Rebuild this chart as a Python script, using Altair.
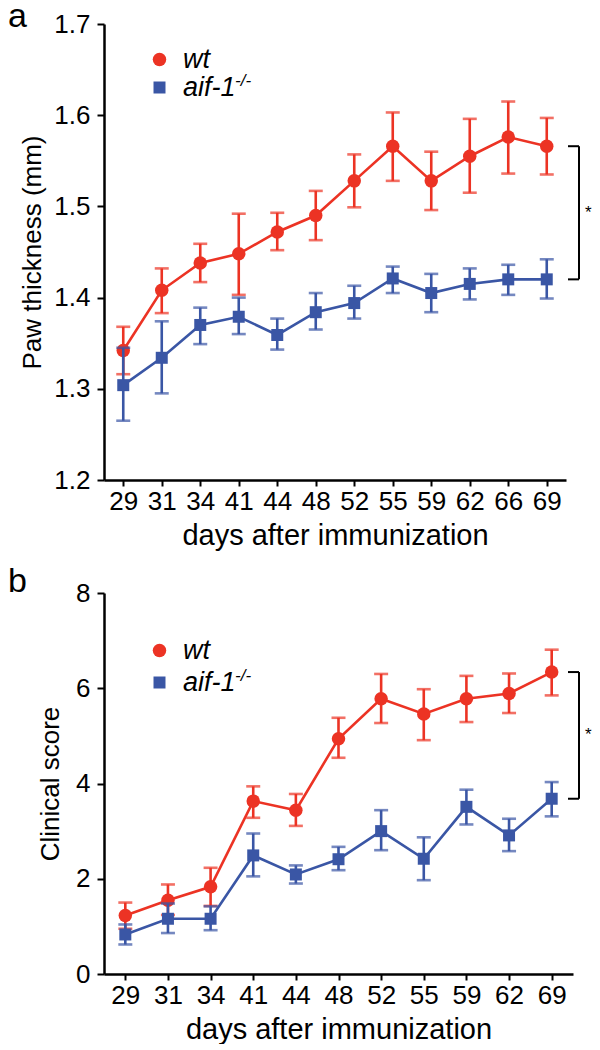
import altair as alt
import pandas as pd

# ---------------- data ----------------
series_names = ["wt", "aif-1"]
colors = ["#EC3324", "#3A56A5"]

days_a = ["29", "31", "34", "41", "44", "48", "52", "55", "59", "62", "66", "69"]
wt_a = [1.342, 1.408, 1.438, 1.448, 1.472, 1.490, 1.528, 1.566, 1.528, 1.555, 1.576, 1.566]
wt_a_hi = [1.368, 1.432, 1.459, 1.492, 1.493, 1.517, 1.557, 1.603, 1.560, 1.596, 1.615, 1.597]
wt_a_lo = [1.316, 1.383, 1.417, 1.403, 1.452, 1.463, 1.499, 1.528, 1.496, 1.515, 1.536, 1.535]
ko_a = [1.304, 1.334, 1.370, 1.379, 1.359, 1.384, 1.394, 1.421, 1.405, 1.415, 1.420, 1.420]
ko_a_hi = [1.345, 1.374, 1.389, 1.400, 1.377, 1.405, 1.413, 1.434, 1.426, 1.432, 1.436, 1.442]
ko_a_lo = [1.265, 1.295, 1.349, 1.360, 1.343, 1.365, 1.377, 1.405, 1.384, 1.398, 1.403, 1.399]

days_b = ["29", "31", "34", "41", "44", "48", "52", "55", "59", "62", "69"]
wt_b = [1.23, 1.55, 1.83, 3.63, 3.44, 4.94, 5.78, 5.46, 5.78, 5.89, 6.34]
wt_b_hi = [1.50, 1.88, 2.23, 3.94, 3.78, 5.38, 6.30, 5.98, 6.26, 6.31, 6.81]
wt_b_lo = [0.95, 1.24, 1.43, 3.28, 3.11, 4.54, 5.27, 4.91, 5.29, 5.48, 5.85]
ko_b = [0.83, 1.16, 1.16, 2.49, 2.09, 2.41, 3.00, 2.42, 3.51, 2.91, 3.68]
ko_b_hi = [1.04, 1.48, 1.42, 2.95, 2.28, 2.67, 3.44, 2.87, 3.87, 3.26, 4.03]
ko_b_lo = [0.62, 0.86, 0.92, 2.05, 1.90, 2.18, 2.60, 1.97, 3.14, 2.58, 3.31]

yticks_a = [1.2, 1.3, 1.4, 1.5, 1.6, 1.7]
yticks_b = [0, 2, 4, 6, 8]

FONT = "Liberation Sans"


def make_df(days, wt, wthi, wtlo, ko, kohi, kolo):
    rows = []
    for i, d in enumerate(days):
        rows.append({"day": d, "series": series_names[0], "mean": wt[i], "hi": wthi[i], "lo": wtlo[i]})
    for i, d in enumerate(days):
        rows.append({"day": d, "series": series_names[1], "mean": ko[i], "hi": kohi[i], "lo": kolo[i]})
    return pd.DataFrame(rows)


def panel(df, days, width, height, ydom, yticks, yfmt, ytitle, ytitle_pad,
          letter, letter_y, leg_y, row_pad, sup_y, top_val, bot_val, br_x0, br_x1):
    xenc = alt.X(
        "day:O", sort=days,
        scale=alt.Scale(type="point", padding=0.5),
        axis=alt.Axis(title="days after immunization", titleFontSize=29, titleFontWeight="normal",
                      titlePadding=7, labelFontSize=26, labelAngle=0, labelPadding=2,
                      tickSize=6, tickWidth=2, domainWidth=2.5, domainColor="black",
                      tickColor="black", labelColor="black", titleColor="black", grid=False),
    )
    yscale = alt.Scale(domain=ydom, nice=False, zero=False)
    yaxis = alt.Axis(title=ytitle, titleFontSize=26, titleFontWeight="normal", titlePadding=ytitle_pad,
                     labelFontSize=26, labelPadding=7, tickSize=7, tickWidth=2, domainWidth=2.5,
                     domainColor="black", tickColor="black", labelColor="black", titleColor="black",
                     values=yticks, format=yfmt, grid=False)

    base = alt.Chart(df)
    layers = []
    for name, col in zip(series_names, colors):
        b = base.transform_filter(alt.datum.series == name)
        layers.append(b.mark_rule(color=col, strokeWidth=2.6).encode(
            x=xenc, y=alt.Y("lo:Q", scale=yscale, axis=yaxis), y2="hi:Q"))
        layers.append(b.mark_tick(color=col, thickness=2.6, size=14, orient="horizontal").encode(
            x=xenc, y=alt.Y("lo:Q", scale=yscale)))
        layers.append(b.mark_tick(color=col, thickness=2.6, size=14, orient="horizontal").encode(
            x=xenc, y=alt.Y("hi:Q", scale=yscale)))
        layers.append(b.mark_line(color=col, strokeWidth=2.6).encode(
            x=xenc, y=alt.Y("mean:Q", scale=yscale)))
        layers.append(b.mark_point(filled=True, opacity=1).encode(
            x=xenc, y=alt.Y("mean:Q", scale=yscale),
            color=alt.Color("series:N", scale=alt.Scale(domain=series_names, range=colors),
                            legend=alt.Legend(orient="none", legendX=42, legendY=leg_y, title=None,
                                              labelFontSize=27, labelFontStyle="italic", labelFont=FONT,
                                              labelColor="black", labelOffset=10, rowPadding=row_pad,
                                              symbolStrokeWidth=0)),
            shape=alt.Shape("series:N", scale=alt.Scale(domain=series_names, range=["circle", "square"])),
            size=alt.Size("series:N", scale=alt.Scale(domain=series_names, range=[182, 144])),
        ))

    # superscript of the knockout genotype label
    sup = alt.Chart(pd.DataFrame({"t": ["-/-"]})).mark_text(
        fontSize=17, fontStyle="italic", font=FONT, align="left", baseline="alphabetic", color="black"
    ).encode(text="t:N", x=alt.value(131), y=alt.value(sup_y))

    # panel letter
    let = alt.Chart(pd.DataFrame({"t": [letter]})).mark_text(
        fontSize=34, font=FONT, align="left", baseline="alphabetic", color="black"
    ).encode(text="t:N", x=alt.value(-96), y=alt.value(letter_y))

    # significance bracket
    br = pd.DataFrame({"top": [top_val], "bot": [bot_val], "mid": [(top_val + bot_val) / 2], "s": ["*"]})
    bch = alt.Chart(br)
    v = bch.mark_rule(color="black", strokeWidth=2).encode(
        x=alt.value(br_x1), y=alt.Y("top:Q", scale=yscale), y2="bot:Q")
    h1 = bch.mark_rule(color="black", strokeWidth=2).encode(
        x=alt.value(br_x0), x2=alt.value(br_x1), y=alt.Y("top:Q", scale=yscale))
    h2 = bch.mark_rule(color="black", strokeWidth=2).encode(
        x=alt.value(br_x0), x2=alt.value(br_x1), y=alt.Y("bot:Q", scale=yscale))
    star = bch.mark_text(fontSize=17, font=FONT, align="left", baseline="middle", color="black").encode(
        text="s:N", x=alt.value(br_x1 + 6), y=alt.Y("mid:Q", scale=yscale))

    return alt.layer(*layers, sup, let, v, h1, h2, star).properties(width=width, height=height)


df_a = make_df(days_a, wt_a, wt_a_hi, wt_a_lo, ko_a, ko_a_hi, ko_a_lo)
df_b = make_df(days_b, wt_b, wt_b_hi, wt_b_lo, ko_b, ko_b_hi, ko_b_lo)

top = panel(df_a, days_a, 462, 456, [1.2, 1.7], yticks_a, ".1f", "Paw thickness (mm)", 8,
            "a", 3, 22, 0, 62, wt_a[-1], ko_a[-1], 464, 475)
bottom = panel(df_b, days_b, 469, 381, [0, 8], yticks_b, "d", "Clinical score", 12,
               "b", -1, 44, 4, 88, wt_b[-1], ko_b[-1], 464, 475)

chart = alt.vconcat(top, bottom, spacing=15).resolve_scale(
    color="independent", shape="independent", size="independent"
).properties(
    padding={"left": 0, "top": -8, "right": 0, "bottom": 0}
).configure(font=FONT).configure_view(stroke=None)

chart.save("out.html", embed_options={"renderer": "svg", "actions": False})
